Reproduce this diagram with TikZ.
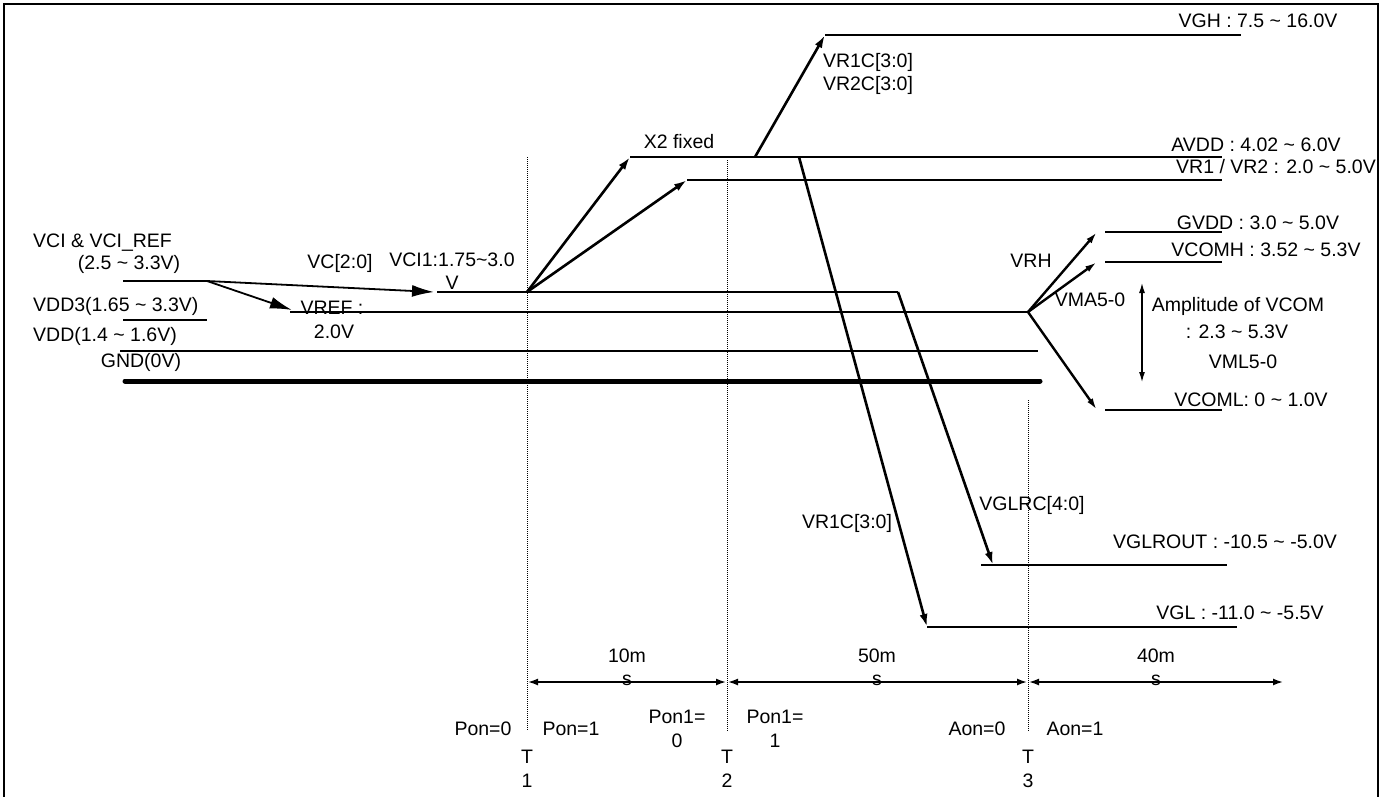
\documentclass[tikz,border=0pt]{standalone}
\usepackage{fontspec}
\setmainfont{Liberation Sans}
\usetikzlibrary{arrows.meta}
\begin{document}
\begin{tikzpicture}[x=1pt,y=-1pt,
  lbl/.style={font=\fontsize{19.5}{23.5}\selectfont, inner sep=0pt, align=center},
  lvl/.style={line width=1.2pt},
  lvlb/.style={line width=1.8pt},
  big/.style={line width=2.6pt,-{Latex[length=13pt,width=8pt]}},
  vcom/.style={line width=2.4pt,-{Latex[length=12pt,width=6.5pt]}},
  vca/.style={line width=1.8pt,-{Latex[length=22pt,width=12pt]}},
  tline/.style={line width=0.9pt, dash pattern=on 1pt off 1pt},
  dimarr/.style={line width=1.6pt,{Latex[length=10pt,width=7pt]}-{Latex[length=10pt,width=7pt]}},
  amp/.style={line width=1.2pt,{Latex[length=10pt,width=6pt]}-{Latex[length=10pt,width=6pt]}}
]
\useasboundingbox (0,0) rectangle (1385,796);
\fill[white] (0,0) rectangle (1385,796);
% frame
\draw[line width=2.6pt] (4,800) -- (4,4) -- (1378,4) -- (1378,800);

% coordinates
\coordinate (vciL) at (123,281);
\coordinate (vciR) at (207,281);
\coordinate (vcTip) at (434,292);
\coordinate (vci1L) at (437,292);
\coordinate (t1p) at (527,292);
\coordinate (vci1R) at (898,292);
\coordinate (vrefTip) at (292,310);
\coordinate (vrefL) at (290,312);
\coordinate (vrefR) at (1028,312);
\coordinate (vdd3L) at (123,320);
\coordinate (vdd3R) at (207,320);
\coordinate (vddL) at (120,351);
\coordinate (vddR) at (1038,351);
\coordinate (gndL) at (125,381);
\coordinate (gndR) at (1040,381);
\coordinate (avddL) at (630,157);
\coordinate (avddR) at (1222,157);
\coordinate (vr1L) at (687,180);
\coordinate (vr1R) at (1222,180);
\coordinate (vghS) at (755,157);
\coordinate (vghL) at (825,35);
\coordinate (vghR) at (1241,35);
\coordinate (vglS) at (799,157);
\coordinate (vglL) at (927,627);
\coordinate (vglR) at (1237,627);
\coordinate (vglrTip) at (993,565);
\coordinate (vglrL) at (981,565);
\coordinate (vglrR) at (1227,565);
\coordinate (gvddTip) at (1097,232);
\coordinate (gvddL) at (1105,232);
\coordinate (gvddR) at (1222,232);
\coordinate (vcomhTip) at (1097,262);
\coordinate (vcomhL) at (1105,262);
\coordinate (vcomhR) at (1222,262);
\coordinate (vcomlTip) at (1097,410);
\coordinate (vcomlL) at (1105,410);
\coordinate (vcomlR) at (1222,410);
\coordinate (ampT) at (1142,283);
\coordinate (ampB) at (1142,382);
% timing marks
\coordinate (t1top) at (527,157);
\coordinate (t1bot) at (527,731);
\coordinate (t2top) at (727,160);
\coordinate (t2bot) at (727,731);
\coordinate (t3top) at (1028,400);
\coordinate (t3bot) at (1028,731);
\coordinate (d1) at (528,682);
\coordinate (d2a) at (726,682);
\coordinate (d2b) at (728,682);
\coordinate (d3a) at (1027,682);
\coordinate (d3b) at (1029,682);
\coordinate (d4) at (1283,682);

% dotted time lines
\draw[tline] (t1top) -- (t1bot);
\draw[tline] (t2top) -- (t2bot);
\draw[tline] (t3top) -- (t3bot);

% level lines
\draw[lvl] (vciL) -- (vciR);
\draw[lvl] (vdd3L) -- (vdd3R);
\draw[lvl] (vrefL) -- (vrefR);
\draw[lvlb] (vddL) -- (vddR);
\draw[line width=5pt, line cap=round] (gndL) -- (gndR);
\draw[lvlb] (vci1L) -- (vci1R);
\draw[lvl] (avddL) -- (avddR);
\draw[lvl] (vr1L) -- (vr1R);
\draw[lvl] (vghL) -- (vghR);
\draw[lvl] (vglL) -- (vglR);
\draw[lvl] (vglrL) -- (vglrR);
\draw[lvl] (gvddL) -- (gvddR);
\draw[lvl] (vcomhL) -- (vcomhR);
\draw[lvl] (vcomlL) -- (vcomlR);

% arrows
\draw[vca] (vciR) -- (vcTip);
\draw[vca] (vciR) -- (vrefTip);
\draw[big] (t1p) -- (avddL);
\draw[big] (t1p) -- (vr1L);
\draw[big] (vghS) -- (vghL);
\draw[big] (vglS) -- (vglL);
\draw[big] (vci1R) -- (vglrTip);
\draw[vcom] (vrefR) -- (gvddTip);
\draw[vcom] (vrefR) -- (vcomhTip);
\draw[vcom] (vrefR) -- (vcomlTip);
\draw[amp] (ampT) -- (ampB);

% dimension arrows
\draw[dimarr] (d1) -- (d2a);
\draw[dimarr] (d2b) -- (d3a);
\draw[dimarr] (d3b) -- (d4);

% labels left
\node[lbl, anchor=west] (tvci) at (33,243) {VCI \& VCI\_REF};
\node[lbl] (tvcir) at (129,264) {(2.5 \textasciitilde{} 3.3V)};
\node[lbl, anchor=west] (tvdd3) at (33,306) {VDD3(1.65 \textasciitilde{} 3.3V)};
\node[lbl, anchor=west] (tvdd) at (33,336) {VDD(1.4 \textasciitilde{} 1.6V)};
\node[lbl] (tgnd) at (141,362) {GND(0V)};
\node[lbl] (tvc) at (340,263) {VC[2:0]};
\node[lbl] (tvci1) at (452,260) {VCI1:1.75\textasciitilde{}3.0};
\node[lbl] (tvci1v) at (452,283) {V};
\node[lbl] (tvref) at (332,308) {VREF :};
\node[lbl] (tvref2) at (334,332) {2.0V};

% labels top
\node[lbl] (tx2) at (679,142) {X2 fixed};
\node[lbl] (tvr1c) at (868,74) {VR1C[3:0]\\VR2C[3:0]};
\node[lbl] (tvgh) at (1258,21) {VGH : 7.5 \textasciitilde{} 16.0V};
\node[lbl] (tavdd) at (1256,145) {AVDD : 4.02 \textasciitilde{} 6.0V};
\node[lbl] (tvr1) at (1276,167) {VR1 / VR2 : 2.0 \textasciitilde{} 5.0V};

% labels VCOM
\node[lbl] (tgvdd) at (1258,223) {GVDD : 3.0 \textasciitilde{} 5.0V};
\node[lbl] (tvcomh) at (1266,250) {VCOMH : 3.52 \textasciitilde{} 5.3V};
\node[lbl] (tvrh) at (1031,261) {VRH};
\node[lbl] (tvma) at (1090,300) {VMA5-0};
\node[lbl] (tampl) at (1238,306) {Amplitude of VCOM};
\node[lbl] (tampv) at (1237,332) {: 2.3 \textasciitilde{} 5.3V};
\node[lbl] (tvml) at (1243,362) {VML5-0};
\node[lbl] (tvcoml) at (1251,400) {VCOML: 0 \textasciitilde{} 1.0V};

% labels lower
\node[lbl] (tvr1cb) at (847,523) {VR1C[3:0]};
\node[lbl] (tvglrc) at (1032,505) {VGLRC[4:0]};
\node[lbl] (tvglrout) at (1225,542) {VGLROUT : -10.5 \textasciitilde{} -5.0V};
\node[lbl] (tvgl) at (1240,613) {VGL : -11.0 \textasciitilde{} -5.5V};

% timing labels
\node[lbl] (t10) at (627,656) {10m};
\node[lbl] (t10s) at (627,680) {s};
\node[lbl] (t50) at (877,656) {50m};
\node[lbl] (t50s) at (877,680) {s};
\node[lbl] (t40) at (1156,656) {40m};
\node[lbl] (t40s) at (1156,680) {s};
\node[lbl] (pon0) at (483,729) {Pon=0};
\node[lbl] (pon1) at (571,729) {Pon=1};
\node[lbl] (pon10) at (677,729) {Pon1=\\0};
\node[lbl] (pon11) at (775,729) {Pon1=\\1};
\node[lbl] (aon0) at (977,729) {Aon=0};
\node[lbl] (aon1) at (1075,729) {Aon=1};
\node[lbl] (tT1) at (527,769) {T\\1};
\node[lbl] (tT2) at (727,769) {T\\2};
\node[lbl] (tT3) at (1028,769) {T\\3};
\end{tikzpicture}
\end{document}
